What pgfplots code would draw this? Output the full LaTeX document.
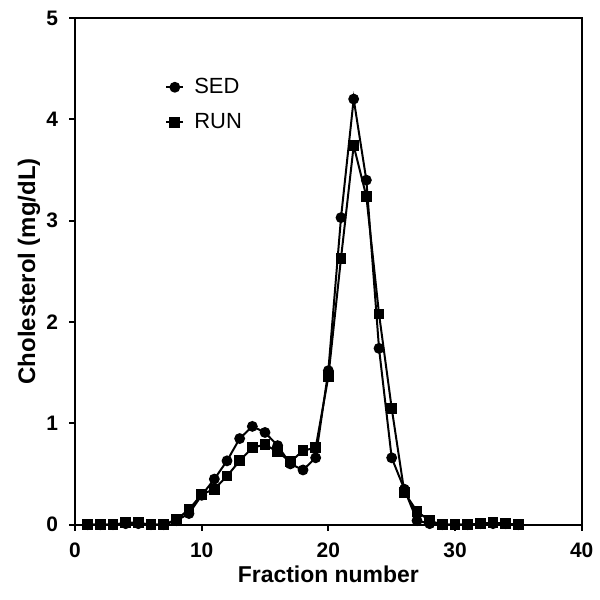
\documentclass[border=0pt]{standalone}
\usepackage{pgfplots}
\pgfplotsset{compat=1.18}
\usepackage{fontspec}
\setmainfont{Liberation Sans}
\begin{document}
\begin{tikzpicture}
\begin{axis}[
  scale only axis,
  clip=false,
  width=254pt, height=254pt,
  xmin=0, xmax=40, ymin=0, ymax=5,
  xtick={0,10,20,30,40},
  ytick={0,1,2,3,4,5},
  tick align=outside,
  tick pos=left,
  major tick length=3pt,
  axis line style={line width=0.9pt},
  every tick/.style={black, line width=0.9pt},
  /pgf/number format/assume math mode=true,
  tick label style={font=\fontsize{10.5}{12}\selectfont\bfseries},
  xticklabel style={anchor=center, yshift=-10pt},
  yticklabel style={anchor=east, xshift=-2pt},
  xlabel={Fraction number},
  ylabel={Cholesterol (mg/dL)},
  xlabel style={font=\fontsize{11.5}{13}\selectfont\bfseries, at={(axis description cs:0.5,-0.0984)}, anchor=center},
  ylabel style={font=\fontsize{12}{14}\selectfont\bfseries, at={(axis description cs:-0.0906,0.5)}, anchor=center},
  legend style={draw=none, fill=none, inner sep=0pt, at={(axis cs:7.1,4.45)}, anchor=north west,
    font=\fontsize{11}{13}\selectfont, row sep=4.5pt, column sep=3pt},
  legend cell align=left,
  legend image code/.code={
    \draw[#1, line width=1pt] (0cm,0cm) -- (0.3cm,0cm);
    \draw[#1, only marks] plot coordinates {(0.15cm,0cm)};
  },
]
\path (rel axis cs:-0.148,-0.148) rectangle (rel axis cs:1.0355,1.0355);
\addplot[black, line width=1pt, mark=*, mark size=2.2pt] coordinates {
(1,0.0) (2,0.0) (3,0.0) (4,0.01) (5,0.01) (6,0.0) (7,0.0) (8,0.04) (9,0.11) (10,0.29)
(11,0.45) (12,0.63) (13,0.85) (14,0.97) (15,0.91) (16,0.78) (17,0.60) (18,0.54) (19,0.66) (20,1.52)
(21,3.03) (22,4.20) (23,3.40) (24,1.74) (25,0.66) (26,0.35) (27,0.04) (28,0.01) (29,0.0) (30,0.0)
(31,0.0) (32,0.01) (33,0.01) (34,0.01) (35,0.0)
};
\addlegendentry{SED}
\addplot[black, line width=1pt, mark=square*, mark size=2.2pt] coordinates {
(1,0.0) (2,0.0) (3,0.0) (4,0.02) (5,0.02) (6,0.0) (7,0.0) (8,0.05) (9,0.15) (10,0.30)
(11,0.35) (12,0.48) (13,0.63) (14,0.76) (15,0.79) (16,0.72) (17,0.62) (18,0.73) (19,0.76) (20,1.46)
(21,2.63) (22,3.74) (23,3.24) (24,2.08) (25,1.15) (26,0.32) (27,0.13) (28,0.04) (29,0.0) (30,0.0)
(31,0.0) (32,0.01) (33,0.02) (34,0.01) (35,0.0)
};
\addlegendentry{RUN}
\end{axis}
\end{tikzpicture}
\end{document}
